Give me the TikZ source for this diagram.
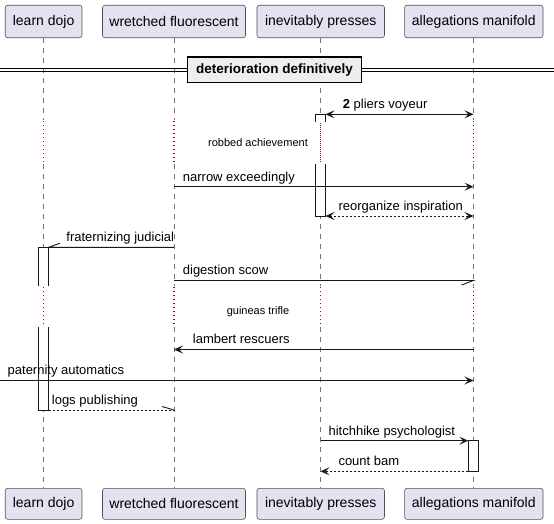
\documentclass[tikz,border=0pt]{standalone}
\usepackage{fontspec}
\setmainfont{Liberation Sans}
\usetikzlibrary{arrows.meta}
\definecolor{partfill}{HTML}{E2E2F0}
\definecolor{partdraw}{HTML}{181818}
\definecolor{delayred}{HTML}{A80036}
\definecolor{divfill}{HTML}{EEEEEE}
\begin{document}
\begin{tikzpicture}[x=1pt,y=-1pt,
  part/.style={draw=partdraw!75, fill=partfill, rounded corners=2.5pt, line width=0.6pt, inner sep=0pt, font=\fontsize{14}{16}\selectfont},
  life/.style={draw=black!55, dash pattern=on 5pt off 5pt, line width=0.6pt},
  dly/.style={draw=delayred, dash pattern=on 1pt off 3pt, line width=1.1pt},
  act/.style={draw=partdraw, line width=0.9pt},
  msg/.style={draw=partdraw, line width=0.9pt},
  ret/.style={msg, dash pattern=on 2pt off 2pt},
  tip/.style={-{Stealth[length=9pt,width=8pt,inset=4pt]}},
  both/.style={{Stealth[length=9pt,width=8pt,inset=4pt]}-{Stealth[length=9pt,width=8pt,inset=4pt]}},
  lbl/.style={anchor=base west, inner sep=0pt, font=\fontsize{13}{15}\selectfont},
  dlbl/.style={inner sep=0pt, font=\fontsize{11}{13}\selectfont},
]
\useasboundingbox (0,0) rectangle (554,524);

% participants (top and bottom)
\node[part, minimum width=76.7pt, minimum height=32.5pt] (pLDt) at (43.6,21.5) {learn dojo};
\node[part, minimum width=143pt, minimum height=32.5pt] (pWFt) at (174,21.5) {wretched fluorescent};
\node[part, minimum width=127.5pt, minimum height=32.5pt] (pIPt) at (320.7,21.5) {inevitably presses};
\node[part, minimum width=138.4pt, minimum height=32.5pt] (pAMt) at (473.8,21.5) {allegations manifold};
\node[part, minimum width=76.7pt, minimum height=31pt] (pLDb) at (43.6,503.8) {learn dojo};
\node[part, minimum width=143pt, minimum height=31pt] (pWFb) at (174,503.8) {wretched fluorescent};
\node[part, minimum width=127.5pt, minimum height=31pt] (pIPb) at (320.7,503.8) {inevitably presses};
\node[part, minimum width=138.4pt, minimum height=31pt] (pAMb) at (473.8,503.8) {allegations manifold};

% lifelines
\foreach \x in {43.5,174,320.5,473.5}{
  \draw[life] (\x,38) -- (\x,120);
  \draw[dly] (\x,121) -- (\x,164);
  \draw[life] (\x,164) -- (\x,286);
  \draw[dly] (\x,287) -- (\x,327);
  \draw[life] (\x,327) -- (\x,488);
}

% divider
\draw[line width=0.8pt] (0,68.3) -- (554,68.3);
\draw[line width=0.8pt] (0,71.5) -- (554,71.5);
\node[draw=black, fill=divfill, line width=1.5pt, minimum width=174pt, minimum height=25.5pt, inner sep=0pt,
      font=\fontsize{13.5}{15}\selectfont\bfseries] (div) at (274.5,69.8) {deterioration definitively};

% activation boxes
\fill[white] (315.5,114) rectangle (325.5,122);
\draw[act] (315.5,122) -- (315.5,114) -- (325.5,114) -- (325.5,122);
\fill[white] (315.5,164) rectangle (325.5,216);
\draw[act] (315.5,164) -- (315.5,216) -- (325.5,216) -- (325.5,164);
\draw[dly] (320.5,123) -- (320.5,163);

\fill[white] (38.3,247.3) rectangle (48.7,286);
\draw[act] (38.3,286) -- (38.3,247.3) -- (48.7,247.3) -- (48.7,286);
\fill[white] (38.3,327) rectangle (48.7,410);
\draw[act] (38.3,327) -- (38.3,410) -- (48.7,410) -- (48.7,327);
\draw[dly] (43.5,287) -- (43.5,326);

\fill[white] (468.3,440.7) rectangle (478.3,471.5);
\draw[act] (468.3,440.7) rectangle (478.3,471.5);

% delay texts
\node[dlbl] (d1) at (258,143) {robbed achievement};
\node[dlbl] (d2) at (258,311.5) {guineas trifle};

% message end points
\coordinate (m1a) at (325.5,114.3); \coordinate (m1b) at (473.5,114.3);
\coordinate (m2a) at (174,186.7);   \coordinate (m2b) at (473.5,186.7);
\coordinate (m3a) at (325.5,216);   \coordinate (m3b) at (473.5,216);
\coordinate (m4a) at (174,247.3);   \coordinate (m4b) at (48.7,247.3);
\coordinate (m5a) at (174,280.5);   \coordinate (m5b) at (473.5,280.5);
\coordinate (m6a) at (473.5,349.5); \coordinate (m6b) at (174,349.5);
\coordinate (m7a) at (0,380.5);     \coordinate (m7b) at (473.5,380.5);
\coordinate (m8a) at (48.7,410);    \coordinate (m8b) at (174,410);
\coordinate (m9a) at (320.5,440.7); \coordinate (m9b) at (468.3,440.7);
\coordinate (m10a) at (468.3,471.3); \coordinate (m10b) at (320.5,471.3);

% messages
\draw[msg,both] (m1a) -- (m1b);
\node[lbl] (l1) at (342.7,108.6) {\textbf{2} pliers voyeur};

\draw[msg,tip] (m2a) -- (m2b);
\node[lbl] (l2) at (182.7,181) {narrow exceedingly};

\draw[ret,both] (m3a) -- (m3b);
\node[lbl] (l3) at (338.3,210.4) {reorganize inspiration};

\draw[msg] (m4a) -- (m4b) -- ++(11,-4);
\node[lbl] (l4) at (66.2,241.6) {fraternizing judicial};

\draw[msg] (m5a) -- (m5b) -- ++(-12,4.5);
\node[lbl] (l5) at (182.7,274.8) {digestion scow};

\draw[msg,tip] (m6a) -- (m6b);
\node[lbl] (l6) at (192.7,343.8) {lambert rescuers};

\draw[msg,tip] (m7a) -- (m7b);
\node[lbl] (l7) at (7.5,374.8) {paternity automatics};

\draw[ret] (m8a) -- (m8b);
\draw[msg] (m8b) -- ++(-12,-3.5);
\node[lbl] (l8) at (51.7,404.3) {logs publishing};

\draw[msg,tip] (m9a) -- (m9b);
\node[lbl] (l9) at (328.4,435) {hitchhike psychologist};

\draw[ret,tip] (m10a) -- (m10b);
\node[lbl] (l10) at (338.3,465.6) {count bam};
\end{tikzpicture}
\end{document}
